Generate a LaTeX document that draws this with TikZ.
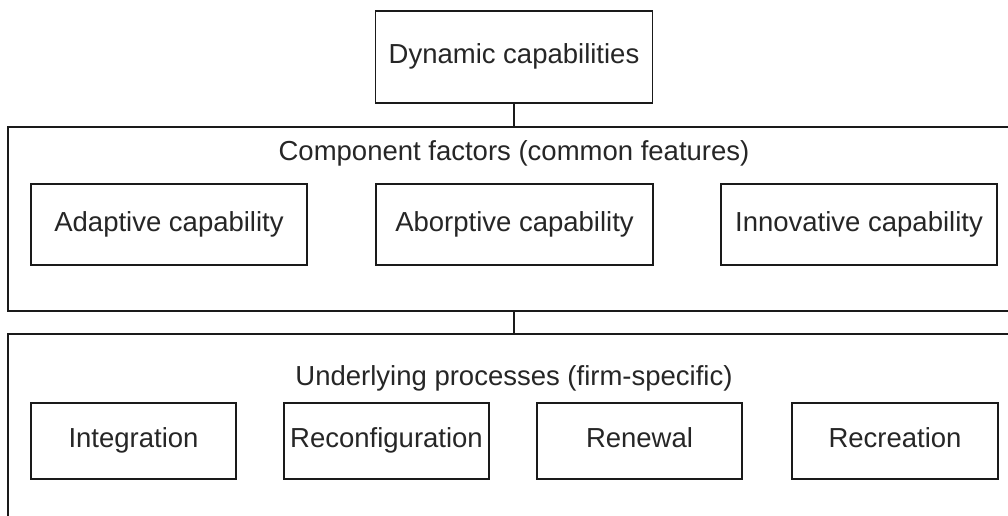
\documentclass[tikz,border=0pt]{standalone}
\usepackage{fontspec}
\setmainfont{Liberation Sans}
\definecolor{txt}{RGB}{38,38,38}
\definecolor{ln}{RGB}{26,26,26}
\begin{document}
\begin{tikzpicture}[x=1pt,y=-1pt,
  txtfont/.style={font=\fontsize{27.5}{32}\selectfont, text=txt},
  box/.style={draw=ln, line width=1.8pt, rectangle, inner sep=0pt, txtfont,
    text height=20pt, text depth=7pt},
  frame/.style={draw=ln, line width=1.8pt, rectangle, inner sep=0pt},
  label/.style={txtfont, anchor=base, inner sep=0pt},
  link/.style={draw=ln, line width=1.8pt}
]
\clip (0,0) rectangle (1008,515);
\fill[white] (0,0) rectangle (1008,515);

% top node
\node[box, minimum width=277pt, minimum height=92pt] (dyn) at (514,57) {Dynamic capabilities};

% component factors frame
\node[frame, minimum width=1012pt, minimum height=184pt] (comp) at (514,219) {};
\node[label] (compl) at (514,160) {Component factors (common features)};
\node[box, minimum width=276pt, minimum height=81pt] (adapt) at (169,224.5) {Adaptive capability};
\node[box, minimum width=277pt, minimum height=81pt] (absorb) at (514.5,224.5) {Aborptive capability};
\node[box, minimum width=276pt, minimum height=81pt] (innov) at (859,224.5) {Innovative capability};

% underlying processes frame
\node[frame, minimum width=1012pt, minimum height=200pt] (proc) at (514,434) {};
\node[label] (procl) at (514,385) {Underlying processes (firm-specific)};
\node[box, minimum width=205pt, minimum height=76pt] (integ) at (133.5,441) {Integration};
\node[box, minimum width=205pt, minimum height=76pt] (reconf) at (386.5,441) {Reconfiguration};
\node[box, minimum width=205pt, minimum height=76pt] (renew) at (639.5,441) {Renewal};
\node[box, minimum width=206pt, minimum height=76pt] (recr) at (895,441) {Recreation};

% connectors
\draw[link] (dyn.south) -- (comp.north);
\draw[link] (comp.south) -- (proc.north);
\end{tikzpicture}
\end{document}
